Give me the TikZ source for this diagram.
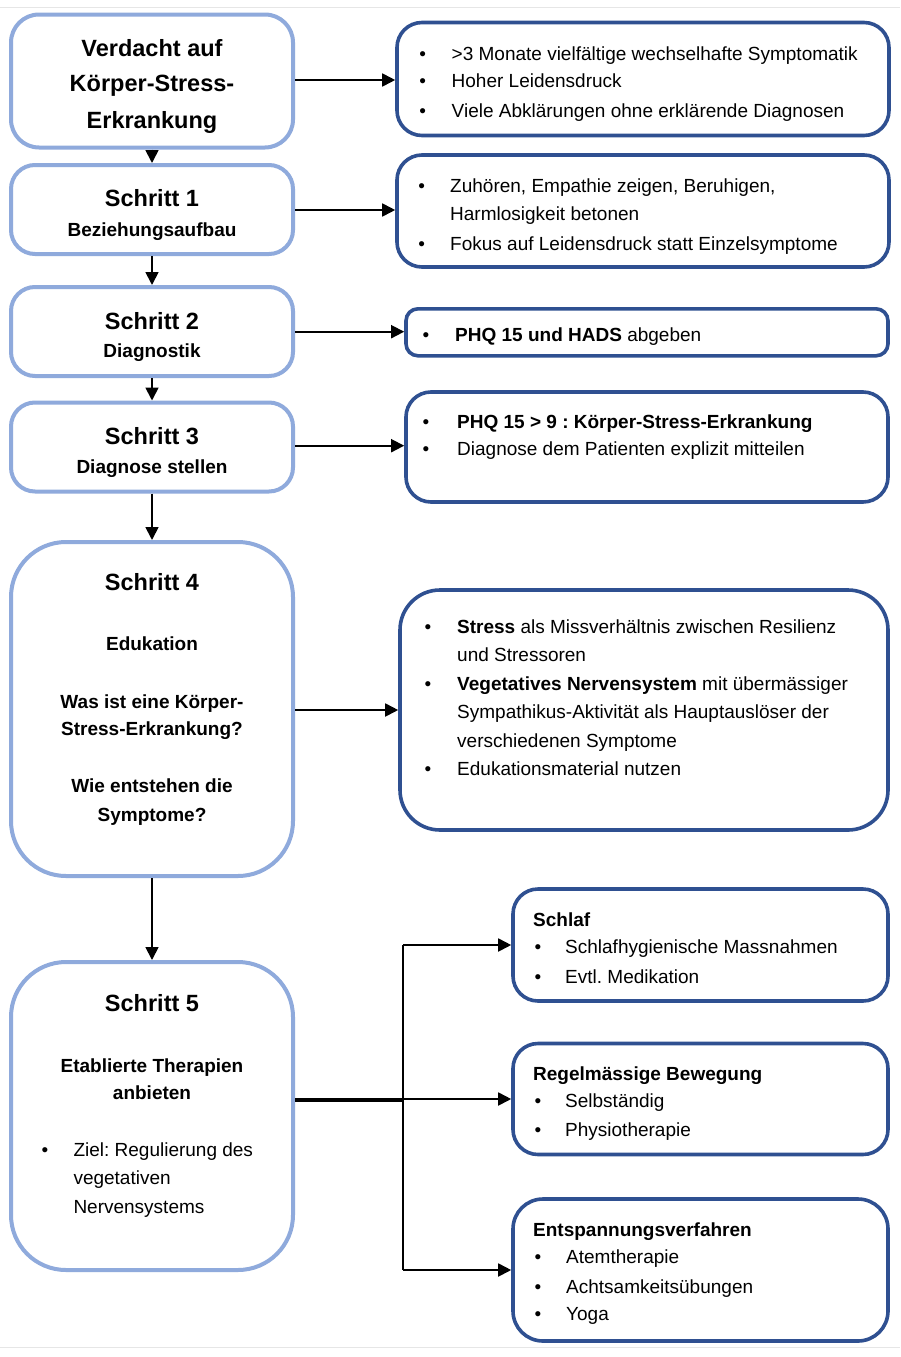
\documentclass[tikz,border=0pt]{standalone}
\usepackage{fontspec}
\setmainfont{Liberation Sans}
\usetikzlibrary{arrows.meta}
\definecolor{lblue}{HTML}{8FAADC}
\definecolor{dblue}{HTML}{2F5091}
\definecolor{rule}{HTML}{E6E6E6}
\newcommand\fsn{\fontsize{19}{23}\selectfont}
\newcommand\fsb{\fontsize{23.5}{28}\selectfont}
\newcommand\mytl[4]{\node[txt] (#1) at (#2,#3) {#4};}
\newcommand\myct[4]{\node[ctr] (#1) at (#2,#3) {#4};}
\newcommand\myhd[4]{\node[ctrb] (#1) at (#2,#3) {#4};}
\newcommand\mybl[3]{\node[bul] (#1) at (#2,#3) {•};}
\frenchspacing
\begin{document}
\begin{tikzpicture}[x=1pt,y=-1pt,
  lbox/.style={draw=lblue, line width=4pt, rounded corners=24pt, fill=white, inner sep=0pt},
  rbox/.style={draw=dblue, line width=3.6pt, rounded corners=25pt, fill=white, inner sep=0pt},
  txt/.style={anchor=base west, inner sep=0pt, font=\fsn},
  ctr/.style={anchor=base, inner sep=0pt, font=\fsn\bfseries},
  ctrb/.style={anchor=base, inner sep=0pt, font=\fsb\bfseries},
  bul/.style={anchor=base, inner sep=0pt, font=\fsn},
  arr/.style={line width=1.8pt, -{Triangle[length=13pt,width=13pt]}}]
\useasboundingbox (0,0) rectangle (900,1357);
\fill[white] (0,0) rectangle (900,1357);
\draw[rule, line width=1pt] (0,7) -- (900,7);
\draw[rule, line width=1pt] (0,1347) -- (900,1347);

% left column boxes
\node[lbox, rounded corners=28pt, minimum width=282pt, minimum height=133pt] (b0) at (152,81) {};
\node[lbox, minimum width=282pt, minimum height=89pt] (b1) at (152,209.5) {};
\node[lbox, minimum width=282pt, minimum height=89pt] (b2) at (152,331.5) {};
\node[lbox, minimum width=282pt, minimum height=89pt] (b3) at (152,447) {};
\node[lbox, rounded corners=55pt, minimum width=282pt, minimum height=334pt] (b4) at (152,709) {};
\node[lbox, rounded corners=55pt, minimum width=282pt, minimum height=308pt] (b5) at (152,1116) {};

% right column boxes
\node[rbox, minimum width=492pt, minimum height=113pt] (r0) at (643,79) {};
\node[rbox, minimum width=492pt, minimum height=112pt] (r1) at (643,211) {};
\node[rbox, rounded corners=12pt, minimum width=482pt, minimum height=47pt] (r2) at (647,332.3) {};
\node[rbox, minimum width=482pt, minimum height=110pt] (r3) at (647,447) {};
\node[rbox, rounded corners=40pt, minimum width=488pt, minimum height=240pt] (r4) at (644,710) {};
\node[rbox, minimum width=375pt, minimum height=112pt] (r5) at (700.5,945) {};
\node[rbox, minimum width=375pt, minimum height=111pt] (r6) at (700.5,1099) {};
\node[rbox, rounded corners=30pt, minimum width=375pt, minimum height=142pt] (r7) at (700.5,1270) {};

% left texts
\myhd{t0a}{152}{56}{Verdacht auf}
\myhd{t0b}{152}{91.7}{Körper-Stress-}
\myhd{t0c}{152}{128}{Erkrankung}
\myhd{t1a}{152}{206.7}{Schritt 1}
\myhd{t2a}{152}{329.3}{Schritt 2}
\myhd{t3a}{152}{444}{Schritt 3}
\myhd{t4a}{152}{590.7}{Schritt 4}
\myhd{t5a}{152}{1011.7}{Schritt 5}
\myct{t1b}{152}{236.7}{Beziehungsaufbau}
\myct{t2b}{152}{357.3}{Diagnostik}
\myct{t3b}{152}{473}{Diagnose stellen}
\myct{t4b}{152}{650.7}{Edukation}
\myct{t4c}{152}{708}{Was ist eine Körper-}
\myct{t4d}{152}{735.5}{Stress-Erkrankung?}
\myct{t4e}{152}{792.7}{Wie entstehen die}
\myct{t4f}{152}{821.7}{Symptome?}
\myct{t5b}{152}{1072.3}{Etablierte Therapien}
\myct{t5c}{152}{1099.3}{anbieten}
\mybl{u5a}{45}{1156}
\mytl{t5d}{73.3}{1156}{Ziel: Regulierung des}
\mytl{t5e}{73.3}{1184.6}{vegetativen}
\mytl{t5f}{73.3}{1213.3}{Nervensystems}

% right texts
\mybl{ur0a}{422.7}{60}
\mytl{tr0a}{451.5}{60}{>3 Monate vielfältige wechselhafte Symptomatik}
\mybl{ur0b}{422.7}{87.8}
\mytl{tr0b}{451.5}{87.8}{Hoher Leidensdruck}
\mybl{ur0c}{422.7}{117.3}
\mytl{tr0c}{451.5}{117.3}{Viele Abklärungen ohne erklärende Diagnosen}

\mybl{ur1a}{421.7}{192.3}
\mytl{tr1a}{450}{192.3}{Zuhören, Empathie zeigen, Beruhigen,}
\mytl{tr1b}{450}{220}{Harmlosigkeit betonen}
\mybl{ur1c}{421.7}{250}
\mytl{tr1c}{450}{250}{Fokus auf Leidensdruck statt Einzelsymptome}

\mybl{ur2a}{426}{341.7}
\mytl{tr2a}{455}{341.7}{\textbf{PHQ 15 und HADS} abgeben}

\mybl{ur3a}{426}{428.3}
\mytl{tr3a}{457}{428.3}{\textbf{PHQ 15 > 9 : Körper-Stress-Erkrankung}}
\mybl{ur3b}{426}{455.5}
\mytl{tr3b}{457}{455.5}{Diagnose dem Patienten explizit mitteilen}

\mybl{ur4a}{428}{633.3}
\mytl{tr4a}{457}{633.3}{\textbf{Stress} als Missverhältnis zwischen Resilienz}
\mytl{tr4b}{457}{661.7}{und Stressoren}
\mybl{ur4c}{428}{690.7}
\mytl{tr4c}{457}{690.7}{\textbf{Vegetatives Nervensystem} mit übermässiger}
\mytl{tr4d}{457}{718.8}{Sympathikus-Aktivität als Hauptauslöser der}
\mytl{tr4e}{457}{747.7}{verschiedenen Symptome}
\mybl{ur4f}{428}{775.5}
\mytl{tr4f}{457}{775.5}{Edukationsmaterial nutzen}

\mytl{tr5h}{533}{926}{\textbf{Schlaf}}
\mybl{ur5a}{538}{953.3}
\mytl{tr5a}{565}{953.3}{Schlafhygienische Massnahmen}
\mybl{ur5b}{538}{983.3}
\mytl{tr5b}{565}{983.3}{Evtl. Medikation}

\mytl{tr6h}{533}{1080.7}{\textbf{Regelmässige Bewegung}}
\mybl{ur6a}{538}{1107.3}
\mytl{tr6a}{565}{1107.3}{Selbständig}
\mybl{ur6b}{538}{1136.7}
\mytl{tr6b}{565}{1136.7}{Physiotherapie}

\mytl{tr7h}{533}{1236.7}{\textbf{Entspannungsverfahren}}
\mybl{ur7a}{538}{1263.3}
\mytl{tr7a}{566}{1263.3}{Atemtherapie}
\mybl{ur7b}{538}{1293.3}
\mytl{tr7b}{566}{1293.3}{Achtsamkeitsübungen}
\mybl{ur7c}{538}{1320.7}
\mytl{tr7c}{566}{1320.7}{Yoga}

% vertical arrows
\draw[arr] (b0.south) -- (b1.north);
\draw[arr] (b1.south) -- (b2.north);
\draw[arr] (b2.south) -- (b3.north);
\draw[arr] (b3.south) -- (b4.north);
\draw[arr] (b4.south) -- (b5.north);

% horizontal arrows
\coordinate (a0) at (0,80);
\coordinate (a1) at (0,210);
\coordinate (a2) at (0,331.7);
\coordinate (a3) at (0,445.7);
\coordinate (a4) at (0,710);
\draw[arr] (b0.east |- a0) -- (r0.west |- a0);
\draw[arr] (b1.east |- a1) -- (r1.west |- a1);
\draw[arr] (b2.east |- a2) -- (r2.west |- a2);
\draw[arr] (b3.east |- a3) -- (r3.west |- a3);
\draw[arr] (b4.east |- a4) -- (r4.west |- a4);

% branching
\coordinate (j) at (403,1100);
\draw[line width=3.6pt] (b5.east |- j) -- (j);
\draw[line width=1.8pt] (j |- r5.west) -- (j |- r7.west);
\draw[arr] (j |- r5.west) -- (r5.west);
\draw[arr] (j |- r6.west) -- (r6.west);
\draw[arr] (j |- r7.west) -- (r7.west);
\end{tikzpicture}
\end{document}
